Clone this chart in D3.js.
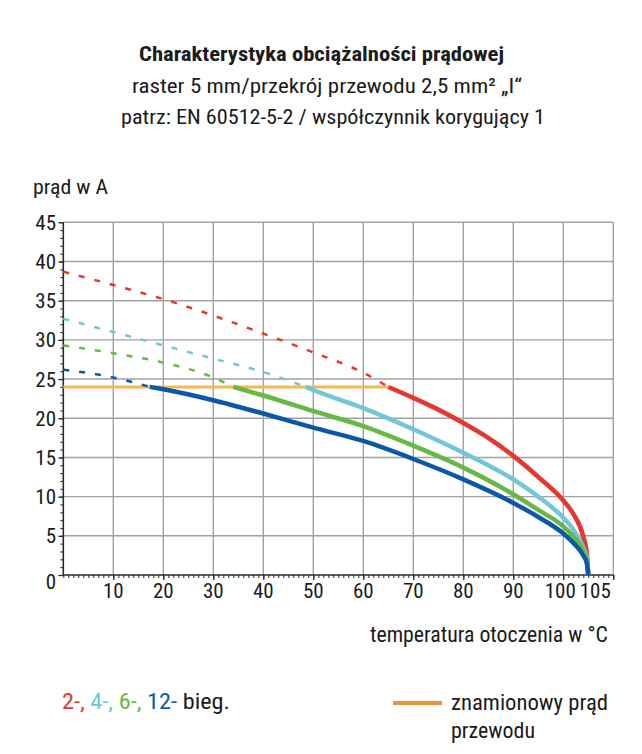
<!DOCTYPE html>
<html><head><meta charset="utf-8">
<script src="https://cdn.jsdelivr.net/npm/d3@7"></script>
<style>
body{margin:0;background:#fff}
svg{display:block}
text{font-family:"Liberation Sans Narrow","Roboto Condensed","Roboto",sans-serif;fill:#1b1b1b}
</style>
</head><body>
<svg id="c" width="642" height="754"></svg>
<script>
// ---------- data ----------
const titleLines = [
  "Charakterystyka obciążalności prądowej",
  "raster 5 mm/przekrój przewodu 2,5 mm² „I“",
  "patrz: EN 60512-5-2 / współczynnik korygujący 1"
];
const yAxisTitle = "prąd w A";
const xAxisTitle = "temperatura otoczenia w °C";
const xTicks = [10,20,30,40,50,60,70,80,90,100,105];
const yTicks = [0,5,10,15,20,25,30,35,40,45];
const xGrid = [10,20,30,40,50,60,70,80,90,100,110];
const seriesNames = ["2-","4-","6-","12-"];
const legendSuffix = " bieg.";
const ratedLabel = ["znamionowy prąd","przewodu"];
const ratedCurrent = 24;
const ratedEnd = 65;

// dashed extrapolations (temperature, current)
const dashRed   = [[0,38.7],[10,37.0],[20,35.2],[30,33.1],[40,30.8],[50,28.4],[60,25.8],[65,24]];
const dashCyan  = [[0,32.7],[10,31.0],[20,29.3],[30,27.6],[40,25.9],[48.5,24]];
const dashGreen = [[0,29.3],[10,28.3],[20,27.1],[30,25.2],[34,24]];
const dashBlue  = [[0,26.2],[10,25.2],[17.3,24]];

// solid derating curves
const solidRed   = [[65,24],[70,22.6],[75,21.1],[80,19.4],[85,17.5],[90,15.2],[95,12.5],[100,9.5],[102,7.8],[104,4.9],[104.7,2.8],[105,0]];
const solidCyan  = [[48.5,24],[50,23.6],[60,21.3],[70,18.6],[80,15.6],[90,12.2],[95,10.0],[100,7.3],[102,5.8],[104,3.5],[104.7,2.2],[105,0]];
const solidGreen = [[34,24],[40,22.9],[50,20.9],[60,19.0],[70,16.5],[80,13.7],[90,10.3],[95,8.3],[100,6.2],[102,4.9],[104,3.1],[104.7,1.9],[105,0]];
const solidBlue  = [[17.3,24],[20,23.7],[30,22.3],[40,20.6],[50,18.8],[60,17.1],[70,14.8],[80,12.2],[90,9.2],[95,7.4],[100,5.3],[102,4.1],[104,2.5],[104.7,1.5],[105,0]];

// ---------- styles ----------
const colors = ["#e5362f","#70c7db","#68b844","#0c58a8"];
const orangeLine = "#f8b850";
const orangeLegend = "#f39233";

const svg = d3.select("#c");
const x = d3.scaleLinear().domain([0,110]).range([63.3,613.3]);
const y = d3.scaleLinear().domain([0,45]).range([575,222.3]);

function fit(sel, w){ sel.attr("textLength", w).attr("lengthAdjust","spacingAndGlyphs"); return sel; }

// title
const titleW = [365,390,424];
svg.append("g").selectAll("text").data(titleLines).join("text")
  .attr("x",(d,i)=>[321.5,327,333][i]).attr("y",(d,i)=>[61,93,124][i])
  .attr("text-anchor","middle")
  .attr("font-size",21)
  .attr("font-weight",(d,i)=>i===0?"bold":"normal")
  .attr("textLength",(d,i)=>titleW[i]).attr("lengthAdjust","spacingAndGlyphs")
  .text(d=>d);

// grid
const grid = svg.append("g").attr("stroke","#a1a1a8").attr("stroke-width",1.4);
grid.selectAll("line.v").data(xGrid).join("line").attr("class","v")
  .attr("x1",d=>x(d)).attr("x2",d=>x(d)).attr("y1",y(0)).attr("y2",y(45));
grid.selectAll("line.h").data(yTicks.filter(d=>d>0)).join("line").attr("class","h")
  .attr("x1",x(0)).attr("x2",x(110)).attr("y1",d=>y(d)).attr("y2",d=>y(d));

// axes with minor ticks
const axisColor = "#2a2a2a";
const gx = svg.append("g").attr("transform",`translate(0,${y(0)})`)
  .call(d3.axisBottom(x).tickValues(d3.range(0,111,1)).tickSize(3).tickFormat(""));
gx.selectAll("line").attr("stroke",axisColor).attr("stroke-width",1);
gx.select(".domain").attr("stroke",axisColor).attr("stroke-width",1.6).attr("d",`M${x(0)},0H${x(110)}`);
svg.append("g").attr("transform",`translate(0,${y(0)})`)
  .call(d3.axisBottom(x).tickValues(xGrid).tickSize(5).tickFormat(""))
  .call(g=>{g.select(".domain").remove();g.selectAll("line").attr("stroke",axisColor).attr("stroke-width",1.3);});

const gy = svg.append("g").attr("transform",`translate(${x(0)},0)`)
  .call(d3.axisLeft(y).tickValues(d3.range(0,46,1)).tickSize(3).tickFormat(""));
gy.selectAll("line").attr("stroke",axisColor).attr("stroke-width",1);
gy.select(".domain").attr("stroke",axisColor).attr("stroke-width",1.6).attr("d",`M0,${y(0)}V${y(45)}`);
svg.append("g").attr("transform",`translate(${x(0)},0)`)
  .call(d3.axisLeft(y).tickValues(yTicks).tickSize(5).tickFormat(""))
  .call(g=>{g.select(".domain").remove();g.selectAll("line").attr("stroke",axisColor).attr("stroke-width",1.3);});

// tick labels
svg.append("g").selectAll("text").data(yTicks).join("text")
  .attr("x",56).attr("y",d=>y(d)+(d===0?6:0))
  .attr("dy","0.36em").attr("text-anchor","end").attr("font-size",21)
  .text(d=>d);
svg.append("g").selectAll("text").data(xTicks).join("text")
  .attr("x",d=>x(d)+(d===105?7:d===100?-3:0)).attr("y",598)
  .attr("text-anchor","middle").attr("font-size",21)
  .text(d=>d);

// axis titles
fit(svg.append("text").attr("x",33).attr("y",194).attr("font-size",21).text(yAxisTitle),75);
fit(svg.append("text").attr("x",370).attr("y",642).attr("font-size",21.5).text(xAxisTitle),238);

// rated current line
svg.append("line").attr("x1",x(0)).attr("x2",x(ratedEnd))
  .attr("y1",y(ratedCurrent)).attr("y2",y(ratedCurrent))
  .attr("stroke",orangeLine).attr("stroke-width",3);

// curves
const line = d3.line().x(d=>x(d[0])).y(d=>y(d[1])).curve(d3.curveMonotoneX);
const dashed = [dashRed,dashCyan,dashGreen,dashBlue];
const solid = [solidRed,solidCyan,solidGreen,solidBlue];
svg.append("g").selectAll("path").data(dashed).join("path")
  .attr("d",line).attr("fill","none")
  .attr("stroke",(d,i)=>colors[i]).attr("stroke-width",2.5)
  .attr("stroke-dasharray","6,10");
svg.append("g").selectAll("path").data(solid).join("path")
  .attr("d",line).attr("fill","none")
  .attr("stroke",(d,i)=>colors[i]).attr("stroke-width",4.5)
  .attr("stroke-linejoin","round");

// legend
const lt = svg.append("text").attr("x",62).attr("y",709).attr("font-size",22);
seriesNames.forEach((n,i)=>{
  lt.append("tspan").attr("fill",colors[i]).text(n + (i<seriesNames.length-1?", ":""));
});
lt.append("tspan").text(legendSuffix);
fit(lt,168);

svg.append("line").attr("x1",393).attr("x2",442).attr("y1",703).attr("y2",703)
  .attr("stroke",orangeLegend).attr("stroke-width",4);
fit(svg.append("text").attr("x",451).attr("y",710).attr("font-size",22).text(ratedLabel[0]),157);
fit(svg.append("text").attr("x",451).attr("y",738).attr("font-size",22).text(ratedLabel[1]),84);
</script>
</body></html>
